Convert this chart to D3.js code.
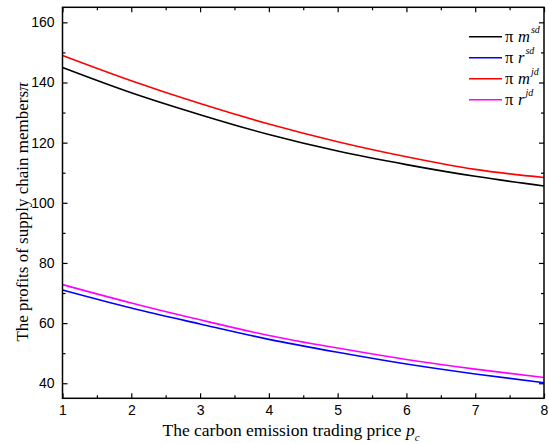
<!DOCTYPE html>
<html>
<head>
<meta charset="utf-8">
<script src="https://cdn.jsdelivr.net/npm/d3@7"></script>
<style>
body { margin: 0; background: #fff; }
text { fill: #000; }
</style>
</head>
<body>
<script>
var prices = [1, 2, 3, 4, 5, 6, 7, 8];
var pmSd = [145, 136.6, 129.3, 122.7, 117.2, 112.7, 108.8, 105.6];
var prSd = [71, 65, 59.7, 54.6, 50.3, 46.4, 43.1, 40.2];
var pmJd = [149, 140.6, 133, 126.2, 120.3, 115.3, 111.1, 108.4];
var prJd = [72.8, 66.7, 61.1, 55.9, 51.7, 47.9, 44.7, 41.9];
var yTicks = [40, 60, 80, 100, 120, 140, 160];

var series = [
  {role: "m", sup: "sd", color: "#000000", vals: pmSd},
  {role: "r", sup: "sd", color: "#0000ff", vals: prSd},
  {role: "m", sup: "jd", color: "#ff0000", vals: pmJd},
  {role: "r", sup: "jd", color: "#ff00ff", vals: prJd}
];

var width = 549, height = 443;
var plotL = 62.5, plotR = 544, plotT = 7.3, plotB = 398.3;

var svg = d3.select("body").append("svg").attr("width", width).attr("height", height);

var x = d3.scaleLinear().domain([1, 8]).range([plotL, plotR]);
var y = d3.scaleLinear().domain([35, 165]).range([plotB, plotT]);

var minorX = d3.range(1.5, 8, 1);
var minorY = d3.range(50, 165, 20);

// lines
var line = d3.line().x((d, i) => x(prices[i])).y(d => y(d)).curve(d3.curveMonotoneX);
svg.selectAll("path.series")
  .data(series)
  .enter()
  .append("path")
  .attr("class", "series")
  .attr("d", d => line(d.vals))
  .attr("fill", "none")
  .attr("stroke", d => d.color)
  .attr("stroke-width", 1.6);

// axes with inward ticks
function styleAxis(g) {
  g.select(".domain").remove();
  g.selectAll("line").attr("stroke", "#000").attr("stroke-width", 1.2);
  g.selectAll("text").attr("font-family", "Liberation Sans, Arial, sans-serif").attr("font-size", 14).attr("fill", "#000");
}

svg.append("g").attr("transform", "translate(0," + plotB + ")")
  .call(d3.axisBottom(x).tickValues(prices).tickFormat(d3.format("d")).tickSizeInner(-5).tickPadding(7))
  .call(styleAxis);
svg.append("g").attr("transform", "translate(0," + plotB + ")")
  .call(d3.axisBottom(x).tickValues(minorX).tickFormat("").tickSizeInner(-3))
  .call(styleAxis);
svg.append("g").attr("transform", "translate(0," + plotT + ")")
  .call(d3.axisTop(x).tickValues(prices).tickFormat("").tickSizeInner(-5))
  .call(styleAxis);
svg.append("g").attr("transform", "translate(0," + plotT + ")")
  .call(d3.axisTop(x).tickValues(minorX).tickFormat("").tickSizeInner(-3))
  .call(styleAxis);

svg.append("g").attr("transform", "translate(" + plotL + ",0)")
  .call(d3.axisLeft(y).tickValues(yTicks).tickFormat(d3.format("d")).tickSizeInner(-5).tickPadding(8))
  .call(styleAxis);
svg.append("g").attr("transform", "translate(" + plotL + ",0)")
  .call(d3.axisLeft(y).tickValues(minorY).tickFormat("").tickSizeInner(-3))
  .call(styleAxis);
svg.append("g").attr("transform", "translate(" + plotR + ",0)")
  .call(d3.axisRight(y).tickValues(yTicks).tickFormat("").tickSizeInner(-5))
  .call(styleAxis);
svg.append("g").attr("transform", "translate(" + plotR + ",0)")
  .call(d3.axisRight(y).tickValues(minorY).tickFormat("").tickSizeInner(-3))
  .call(styleAxis);

// frame
svg.append("rect")
  .attr("x", plotL).attr("y", plotT)
  .attr("width", plotR - plotL).attr("height", plotB - plotT)
  .attr("fill", "none").attr("stroke", "#000").attr("stroke-width", 1.5);

// axis titles
var serif = "Liberation Serif, Times New Roman, serif";
var xt = svg.append("text")
  .attr("x", 291).attr("y", 435.5)
  .attr("text-anchor", "middle")
  .attr("font-family", serif).attr("font-size", 17.5);
xt.append("tspan").text("The carbon emission trading price ");
xt.append("tspan").attr("font-style", "italic").text("p");
xt.append("tspan").attr("font-style", "italic").attr("font-size", 11).attr("dy", 5).text("c");

var yt = svg.append("text")
  .attr("transform", "translate(28,212) rotate(-90)")
  .attr("text-anchor", "middle")
  .attr("font-family", serif).attr("font-size", 17);
yt.append("tspan").text("The profits of supply chain members");
yt.append("tspan").attr("font-style", "italic").text("π");

// legend
var legend = svg.append("g");
var items = legend.selectAll("g")
  .data(series)
  .enter()
  .append("g")
  .attr("transform", (d, i) => "translate(0," + (36.7 + i * 21) + ")");
items.append("line")
  .attr("x1", 469).attr("x2", 502)
  .attr("stroke", d => d.color).attr("stroke-width", 1.6);
var lt = items.append("text")
  .attr("x", 505).attr("y", 5)
  .attr("font-family", serif).attr("font-size", 16.5);
lt.append("tspan").text("π");
lt.append("tspan").attr("x", 518).attr("font-style", "italic").text(d => d.role);
lt.append("tspan").attr("font-style", "italic").attr("font-size", 10).attr("dy", -8.5).attr("dx", 1).text(d => d.sup);
</script>
</body>
</html>
